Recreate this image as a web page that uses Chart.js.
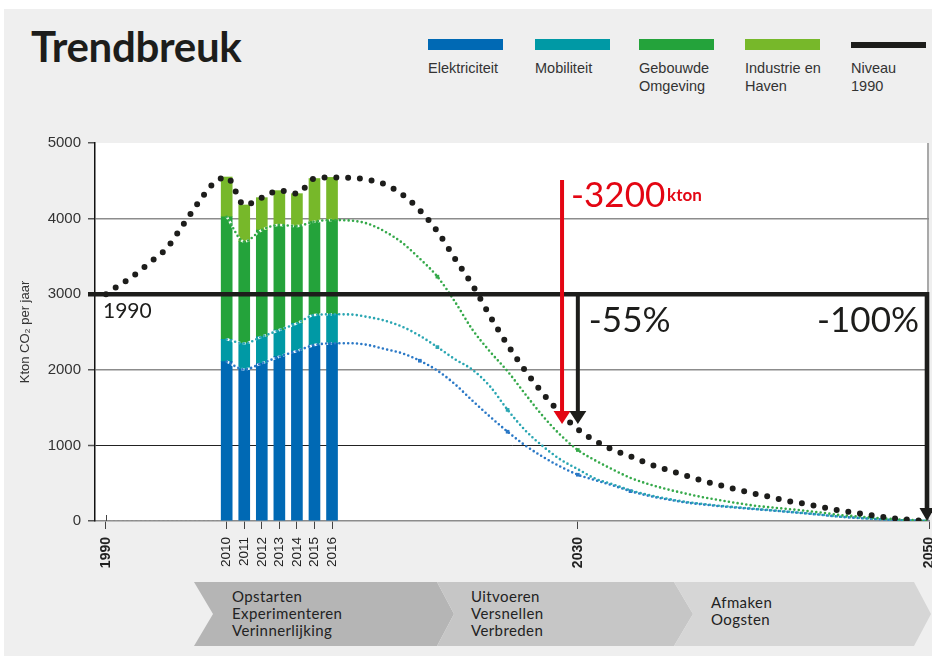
<!DOCTYPE html>
<html lang="nl"><head><meta charset="utf-8"><title>Trendbreuk</title>
<script src="https://cdn.jsdelivr.net/npm/chart.js@4.4.1/dist/chart.umd.min.js"></script>
<style>
html,body{margin:0;padding:0;background:#fff;width:932px;height:656px;overflow:hidden;position:relative;}
#panel{position:absolute;left:4px;top:9px;width:928px;height:647px;background:#efefef;}
#title{position:absolute;left:31px;top:21px;font:700 42px Lato, sans-serif;color:#1d1d1b;letter-spacing:-0.3px;line-height:50px;}
.lg{position:absolute;top:39px;width:80px;}
.lg .sw{width:75px;height:11px;}
.lg .tx{position:absolute;top:20px;left:0;font:14.5px "Liberation Sans", Arial, sans-serif;line-height:18px;color:#333;white-space:pre;}
#phases{position:absolute;left:0;top:0;}
#c{position:absolute;left:0;top:0;}
</style></head><body>
<div id="panel"></div>
<div id="title">Trendbreuk</div>
<div id="legend"></div>
<svg id="phases" width="932" height="656" xmlns="http://www.w3.org/2000/svg"></svg>
<canvas id="c" width="932" height="656"></canvas>
<script>
// ---------------- DATA ----------------
const seriesNames = ['Elektriciteit', 'Mobiliteit', 'Gebouwde\nOmgeving', 'Industrie en\nHaven', 'Niveau\n1990'];
const seriesColors = ['#0069b4', '#0099a5', '#24a33b', '#77b82a', '#1d1d1b'];

// historic total 1990-2008 (Kton CO2 per jaar)
const histYears = [1990, 1992, 1994, 1996, 1998, 2000, 2002, 2004, 2006, 2008];
const histTotal = [3000, 3110, 3210, 3335, 3465, 3600, 3825, 4060, 4290, 4480];

// bars 2010-2016
const barYears = [2010, 2011, 2012, 2013, 2014, 2015, 2016];
const elektriciteit = [2108, 2006, 2086, 2174, 2249, 2328, 2350];
const mobiliteit    = [295, 344, 352, 352, 365, 397, 384];
const gebouwde      = [1622, 1345, 1411, 1389, 1288, 1235, 1247];
const industrie     = [525, 485, 428, 455, 428, 570, 564];

// projected (cumulative) lines 2017-2050
const projYears = [2017,2018,2019,2020,2021,2022,2023,2024,2025,2026,2027,2028,2029,2030,2031,2032,2033,2034,2035,2036,2037,2038,2039,2040,2041,2042,2043,2044,2045,2046,2047,2048,2049,2050];
const projElektriciteitTop = [2352,2330,2275,2218,2120,1990,1810,1590,1380,1181,1000,850,720,612,540,470,395,335,290,250,222,198,178,158,140,120,100,78,55,40,25,14,6,0];
const projMobiliteitTop    = [2732,2700,2650,2570,2450,2300,2140,2000,1780,1470,1200,990,815,685,560,485,405,345,298,258,228,203,182,162,143,123,103,80,57,42,27,15,7,0];
const projGebouwdeTop      = [3975,3935,3830,3680,3470,3232,2900,2530,2240,1980,1680,1390,1140,939,800,680,570,490,425,370,320,278,240,205,180,158,135,108,78,60,40,25,12,0];
const projTotal            = [4540,4515,4455,4320,4110,3830,3470,3120,2710,2330,1990,1690,1430,1213,1060,940,855,760,684,610,540,478,420,365,315,262,225,180,136,100,66,36,13,0];

const niveau1990 = 3000;
const tickYears  = [1990, 2010, 2011, 2012, 2013, 2014, 2015, 2016, 2030, 2050];
const tickLabels = ['1990', '2010', '2011', '2012', '2013', '2014', '2015', '2016', '2030', '2050'];
const boldTicks  = ['1990', '2030', '2050'];
const yTicks     = [0, 1000, 2000, 3000, 4000, 5000];
const phaseTexts = [['Opstarten', 'Experimenteren', 'Verinnerlijking'], ['Uitvoeren', 'Versnellen', 'Verbreden'], ['Afmaken', 'Oogsten']];
const redLabel = '-3200', redUnit = 'kton';
const pctLabels = ['-55%', '-100%'];

// ---------------- helpers ----------------
// time axis: 1990-2010 shown compressed, 2010 onward one unit per year
const u = yr => yr >= 2010 ? yr - 2010 : (yr - 2010) * 0.3438;
const pts = (ys, vs) => ys.map((yr, i) => ({x: u(yr), y: vs[i], year: yr}));
const cum = arrs => arrs[0].map((_, i) => arrs.reduce((s, a) => s + a[i], 0));

const blueTop  = cum([elektriciteit]);
const tealTop  = cum([elektriciteit, mobiliteit]);
const greenTop = cum([elektriciteit, mobiliteit, gebouwde]);
const totalTop = cum([elektriciteit, mobiliteit, gebouwde, industrie]);

// ---------------- legend (HTML) ----------------
const legendX = [428, 535, 639, 745, 851];
const lg = document.getElementById('legend');
seriesNames.forEach((n, i) => {
  const d = document.createElement('div');
  d.className = 'lg'; d.style.left = legendX[i] + 'px';
  const sw = document.createElement('div'); sw.className = 'sw'; sw.style.background = seriesColors[i];
  if (i === 4) { sw.style.height = '6px'; sw.style.marginTop = '3px'; }
  const tx = document.createElement('div'); tx.className = 'tx'; tx.textContent = n;
  d.appendChild(sw); d.appendChild(tx); lg.appendChild(d);
});

// ---------------- phases (SVG) ----------------
const svg = document.getElementById('phases');
const NS = 'http://www.w3.org/2000/svg';
const phaseGeom = [[194, 213, 437, 454], [437, 454, 674, 693], [674, 693, 914, 931]];
const phaseFill = ['#b5b5b5', '#c6c6c6', '#d6d6d6'];
const phaseTextX = [232, 471, 711];
const phaseBase = [[602, 619, 636], [602, 619, 636], [608, 625]];
phaseGeom.forEach((g, i) => {
  const [l, ln, r, rt] = g, t = 582, m = 614, b = 646;
  const p = document.createElementNS(NS, 'polygon');
  p.setAttribute('points', `${l},${t} ${r},${t} ${rt},${m} ${r},${b} ${l},${b} ${ln},${m}`);
  p.setAttribute('fill', phaseFill[i]);
  svg.appendChild(p);
});
phaseTexts.forEach((lines, i) => {
  lines.forEach((s, j) => {
    const t = document.createElementNS(NS, 'text');
    t.setAttribute('x', phaseTextX[i]); t.setAttribute('y', phaseBase[i][j]);
    t.setAttribute('font-family', 'Lato, sans-serif'); t.setAttribute('font-size', '15');
    t.setAttribute('letter-spacing', '0.4'); t.setAttribute('fill', '#222');
    t.textContent = s; svg.appendChild(t);
  });
});

// ---------------- datasets ----------------
const bar = (label, vals, color) => ({
  type: 'bar', label, data: pts(barYears, vals), backgroundColor: color,
  barThickness: 11, grouped: false, stack: 'bars', order: 20
});
let sid = 0;
const line = (o) => Object.assign({
  type: 'line', stack: 'L' + (sid++), fill: false, pointRadius: 0,
  cubicInterpolationMode: 'monotone', borderCapStyle: 'round'
}, o);

const markYears = {blue: [2021, 2026, 2030, 2033], teal: [2022, 2026], green: [2022, 2030]};
const colored = (label, barTopVals, proj, color, marks, ord) => [
  line({label: label + ' wit', data: pts(barYears, barTopVals), borderColor: 'rgba(255,255,255,0.95)',
        borderWidth: 2.5, borderDash: [3, 2.5], borderCapStyle: 'butt', order: 9}),
  line({label, data: pts(barYears, barTopVals).concat(pts(projYears, proj)), borderColor: color,
        borderWidth: 2.6, borderDash: [0, 4.4], order: ord,
        pointStyle: 'rect', pointBackgroundColor: color, pointBorderWidth: 0,
        pointRadius: c => (c.raw && marks.includes(c.raw.year) && c.raw.year > 2016) ? 2.6 : 0})
];

const datasets = [
  line({label: 'Totaal', data: pts(histYears, histTotal).concat(pts(barYears, totalTop), pts(projYears, projTotal)),
        borderColor: '#1d1d1b', borderWidth: 6, borderDash: [0, 11.8], order: 1}),
  ...colored('Elektriciteit', blueTop, projElektriciteitTop, '#2a78c6', markYears.blue, 4),
  ...colored('Mobiliteit', tealTop, projMobiliteitTop, '#2aa6b2', markYears.teal, 3),
  ...colored('Gebouwde Omgeving', greenTop, projGebouwdeTop, '#35a94a', markYears.green, 2),
  line({label: 'nul', data: pts([1990, 2010], [0, 0]), borderColor: '#9a9a9a', borderWidth: 1,
        borderDash: [2.5, 2], borderCapStyle: 'butt', cubicInterpolationMode: 'default', order: 30}),
  bar(seriesNames[0], elektriciteit, seriesColors[0]),
  bar(seriesNames[1].replace('\n', ' '), mobiliteit, seriesColors[1]),
  bar(seriesNames[2].replace('\n', ' '), gebouwde, seriesColors[2]),
  bar(seriesNames[3].replace('\n', ' '), industrie, seriesColors[3])
];

// ---------------- annotations ----------------
function arrow(ctx, x, y1, y2, color, w, hw, hh) {
  ctx.strokeStyle = color; ctx.fillStyle = color; ctx.lineWidth = w; ctx.lineCap = 'butt';
  ctx.beginPath(); ctx.moveTo(x, y1); ctx.lineTo(x, y2 - hh + 1); ctx.stroke();
  ctx.beginPath(); ctx.moveTo(x - hw / 2, y2 - hh); ctx.lineTo(x + hw / 2, y2 - hh); ctx.lineTo(x, y2); ctx.closePath(); ctx.fill();
}
const annot = {
  id: 'annot',
  beforeDraw(chart) {
    const {ctx, chartArea: a} = chart;
    ctx.save(); ctx.fillStyle = '#fff'; ctx.fillRect(a.left, a.top, a.right - a.left, a.bottom - a.top); ctx.restore();
  },
  afterDatasetsDraw(chart) {
    const {ctx, scales: {x, y}, chartArea: a} = chart;
    const px = yr => x.getPixelForValue(u(yr)), py = v => y.getPixelForValue(v);
    ctx.save();
    // right border
    ctx.strokeStyle = '#8c8c8c'; ctx.lineWidth = 1.5;
    ctx.beginPath(); ctx.moveTo(a.right - 1, a.top); ctx.lineTo(a.right - 1, a.bottom); ctx.stroke();
    // 1990 level line + -100% arrow
    const y3 = py(niveau1990), xr = px(2050) - 2;
    ctx.strokeStyle = '#1d1d1b'; ctx.lineWidth = 4.6; ctx.lineJoin = 'miter';
    ctx.beginPath(); ctx.moveTo(88, y3); ctx.lineTo(xr, y3); ctx.lineTo(xr, py(0) - 12); ctx.stroke();
    arrow(ctx, xr, py(0) - 13, py(0), '#1d1d1b', 4.6, 15, 13);
    // red arrow (-3200 kton)
    arrow(ctx, px(2029.1), py(4510), py(1283), '#e30613', 4, 17, 13);
    // black arrow (-55%)
    arrow(ctx, px(2030), y3, py(1283), '#1d1d1b', 4, 17, 13);
    // texts
    ctx.textBaseline = 'alphabetic'; ctx.textAlign = 'left';
    ctx.fillStyle = '#e30613'; ctx.font = '400 35px Lato, sans-serif';
    ctx.fillText(redLabel, px(2029.1) + 9, 207);
    ctx.font = '700 17px Lato, sans-serif'; ctx.fillText(redUnit, px(2029.1) + 105, 201);
    ctx.fillStyle = '#1d1d1b'; ctx.font = '400 35px Lato, sans-serif';
    ctx.fillText(pctLabels[0], px(2030) + 11, 332);
    ctx.textAlign = 'right'; ctx.fillText(pctLabels[1], px(2050) - 10, 332);
    ctx.textAlign = 'left'; ctx.font = '400 21px Lato, sans-serif';
    ctx.fillText(String(1990), px(1990) - 3, 318);
    // small cross tick at 1990
    ctx.strokeStyle = '#444'; ctx.lineWidth = 1;
    ctx.beginPath(); ctx.moveTo(Math.round(px(1990)) + 0.5, py(0) - 6); ctx.lineTo(Math.round(px(1990)) + 0.5, py(0)); ctx.stroke();
    ctx.restore();
  }
};

// ---------------- chart ----------------
const gridCol = {5000: 'rgba(0,0,0,0)', 4000: '#8c8c8c', 3000: '#8c8c8c', 2000: '#8c8c8c', 1000: '#222', 0: 'rgba(0,0,0,0)'};
new Chart(document.getElementById('c'), {
  data: {datasets},
  options: {
    responsive: false, animation: false, devicePixelRatio: 1,
    layout: {padding: {top: 143, right: 3, left: 0, bottom: 0}},
    plugins: {legend: {display: false}, tooltip: {enabled: false}},
    scales: {
      x: {
        type: 'linear', min: -7.5, max: 40, offset: false,
        afterBuildTicks(s) { s.ticks = tickYears.map(yr => ({value: u(yr)})); },
        afterFit(s) { s.height = 135; s.paddingLeft = 0; s.paddingRight = 0; },
        ticks: {
          autoSkip: false, minRotation: 90, maxRotation: 90, padding: 8, color: '#222',
          font: c => (boldTicks.includes(tickLabels[c.index])
            ? {family: '"Liberation Sans", Arial, sans-serif', size: 14, weight: 'bold'}
            : {family: '"Liberation Sans", Arial, sans-serif', size: 13.5, weight: 'normal'}),
          callback: (v, i) => tickLabels[i]
        },
        grid: {offset: false, drawOnChartArea: false, drawTicks: true, tickLength: 8, tickColor: '#444', tickWidth: 1},
        border: {color: '#8c8c8c', width: 1.5}
      },
      y: {
        type: 'linear', min: 0, max: 5000, stacked: true,
        afterBuildTicks(s) { s.ticks = yTicks.map(v => ({value: v})); },
        afterFit(s) { s.width = 95; s.paddingTop = 0; s.paddingBottom = 0; },
        ticks: {padding: 7, color: '#333', font: {family: '"Liberation Sans", Arial, sans-serif', size: 15},
                callback: v => String(v)},
        grid: {color: c => gridCol[c.tick.value], lineWidth: c => c.tick.value === 1000 ? 1 : 1.5,
               tickLength: 7, tickColor: '#555', tickWidth: 1.5},
        border: {color: '#111', width: 1.5},
        title: {display: true, text: 'Kton CO₂ per jaar', color: '#333',
                font: {family: '"Liberation Sans", Arial, sans-serif', size: 13}, padding: {top: 18, bottom: 0}}
      }
    }
  },
  plugins: [annot]
});
</script>
</body></html>
